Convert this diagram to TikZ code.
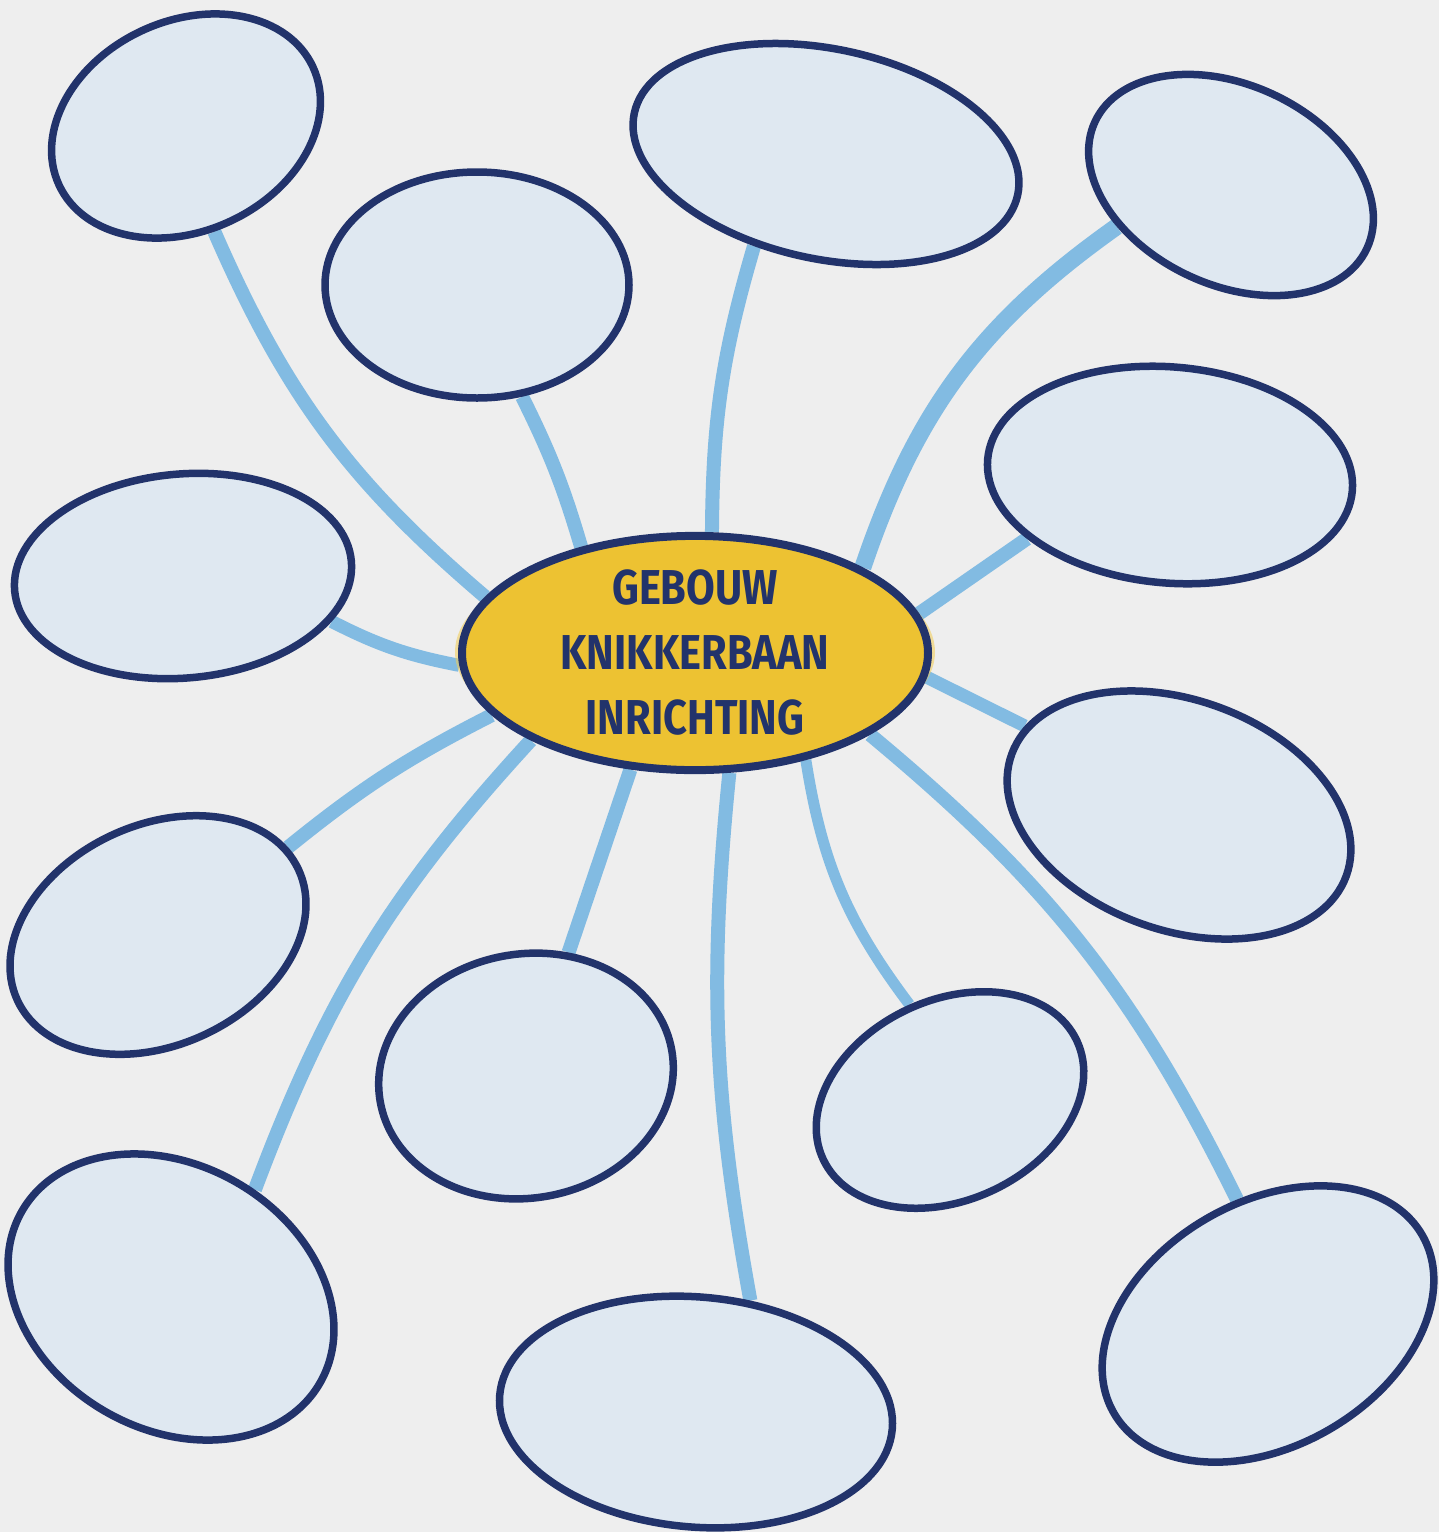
\documentclass[tikz,border=0pt]{standalone}
\usepackage{fontspec}
\newfontfamily\titlefont[FakeStretch=0.85]{Fira Sans}
\usetikzlibrary{shapes.geometric,backgrounds}
\definecolor{paper}{HTML}{EEEEEE}
\definecolor{bubble}{HTML}{DFE8F1}
\definecolor{navy}{HTML}{22336B}
\definecolor{gold}{HTML}{EDC232}
\definecolor{halo}{HTML}{F2CD52}
\definecolor{link}{HTML}{82BBE2}
\tikzset{
  bubblenode/.style={ellipse, draw=navy, fill=bubble, line width=7.5pt, inner sep=0pt},
  centernode/.style={ellipse, draw=navy, fill=gold, line width=8pt, inner sep=0pt,
    text=navy, align=center, font={\titlefont\bfseries\fontsize{49}{65}\selectfont}},
  linkline/.style={draw=link, line width=14pt}
}
\begin{document}
\begin{tikzpicture}[x=1pt,y=1pt]
\useasboundingbox (0,0) rectangle (1439,-1532);
\begin{scope}[on background layer]
\fill[paper] (0,0) rectangle (1439,-1532);
\end{scope}
% halo
\fill[halo, opacity=0.55] (695,-652) ellipse [x radius=240, y radius=108];
% central node
\node[centernode, minimum width=466pt, minimum height=226pt] (c) at (695,-653)
  {GEBOUW\\KNIKKERBAAN\\INRICHTING};
% outer nodes
\node[bubblenode, minimum width=280pt, minimum height=210pt, rotate=25] (e1) at (186,-126) {};
\node[bubblenode, minimum width=304pt, minimum height=226pt] (e2) at (477,-285) {};
\node[bubblenode, minimum width=392pt, minimum height=210pt, rotate=-12] (e3) at (826,-154) {};
\node[bubblenode, minimum width=300pt, minimum height=200pt, rotate=-25] (e4) at (1231,-185) {};
\node[bubblenode, minimum width=366pt, minimum height=216pt, rotate=-5] (e5) at (1170,-475) {};
\node[bubblenode, minimum width=356pt, minimum height=230pt, rotate=-20] (e6) at (1179,-815) {};
\node[bubblenode, minimum width=338pt, minimum height=204pt, rotate=5] (e7) at (183,-576) {};
\node[bubblenode, minimum width=310pt, minimum height=220pt, rotate=25] (e8) at (158,-935) {};
\node[bubblenode, minimum width=296pt, minimum height=244pt, rotate=10] (e9) at (526,-1076) {};
\node[bubblenode, minimum width=280pt, minimum height=200pt, rotate=25] (e10) at (950,-1100) {};
\node[bubblenode, minimum width=344pt, minimum height=264pt, rotate=-30] (e11) at (171,-1297) {};
\node[bubblenode, minimum width=394pt, minimum height=230pt, rotate=-5] (e12) at (696,-1412) {};
\node[bubblenode, minimum width=356pt, minimum height=244pt, rotate=30] (e13) at (1268,-1324) {};
% connectors
\begin{scope}[on background layer]
\path[linkline] (c.165) to[bend left=13] (e1.-100);
\path[linkline] (c.137) to[bend right=5] (e2.-68);
\path[linkline] (c.82) to[bend left=8] (e3.-116);
\path[linkline, line width=17pt] (c.27) to[bend left=18] (e4.-135);
\path[linkline] (c.10) to (e5.-151);
\path[linkline, line width=13pt] (c.-6) to (e6.170);
\path[linkline, line width=13pt] (c.183) to[bend left=8] (e7.-22);
\path[linkline] (c.197) to[bend right=6] (e8.9);
\path[linkline] (c.241) to (e9.61);
\path[linkline, line width=11pt] (c.316) to[bend right=14] (e10.88);
\path[linkline] (c.208) to[bend right=11] (e11.82);
\path[linkline] (c.286) to[bend right=8] (e12.69);
\path[linkline] (c.335) to[bend left=12] (e13.74);
\end{scope}
\end{tikzpicture}
\end{document}
